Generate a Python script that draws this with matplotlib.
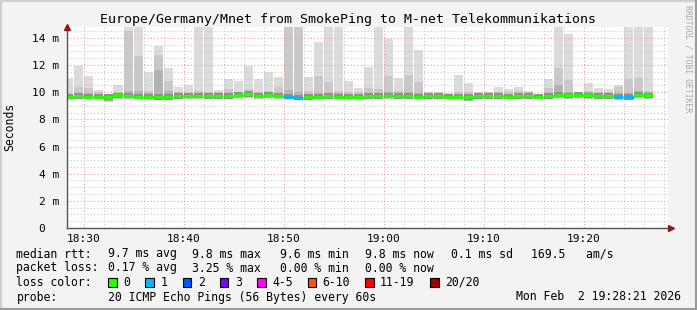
import matplotlib
matplotlib.use("Agg")
import matplotlib.pyplot as plt
import matplotlib.dates as mdates
from matplotlib.patches import Rectangle
from matplotlib.lines import Line2D
import numpy as np
import pandas as pd

# ---------------- data ----------------
start_minute = "2026-02-02 18:28"
top_rtt = [11.05, 11.9, 11.2, 10.15, 9.85, 10.55, 14.8, 14.8, 11.45, 13.4,
           11.8, 10.4, 10.5, 14.8, 14.8, 10.15, 11.0, 10.8, 11.95, 11.0,
           11.45, 11.1, 14.8, 14.8, 11.1, 13.7, 14.8, 14.8, 10.8, 10.3,
           11.85, 14.8, 13.95, 11.05, 14.8, 13.1, 10.05, 10.05, 9.95, 11.3,
           10.7, 10.05, 10.05, 10.4, 10.2, 10.4, 10.1, 9.9, 11.0, 14.8,
           14.3, 10.05, 10.7, 10.3, 10.2, 10.55, 14.8, 14.8, 14.8]
mid_rtt = [9.95, 10.35, 10.3, 10.0, 9.8, 10.0, 14.5, 12.65, 10.1, 12.75,
           10.85, 10.0, 9.95, 10.1, 10.05, 10.0, 10.2, 10.05, 10.25, 10.05,
           10.1, 10.35, 14.8, 14.8, 10.1, 11.2, 10.75, 10.1, 10.05, 10.0,
           10.3, 10.2, 11.2, 10.1, 11.3, 10.75, 9.95, 9.95, 9.9, 10.0,
           10.05, 9.95, 10.0, 10.05, 10.0, 10.1, 10.0, 9.85, 10.3, 11.8,
           10.9, 10.0, 10.1, 10.0, 10.0, 10.4, 10.95, 11.05, 10.1]
inner_rtt = [9.9, 9.95, 9.95, 9.9, 9.8, 9.95, 10.1, 10.1, 9.95, 11.6,
             10.1, 9.95, 9.95, 9.95, 9.95, 9.95, 9.95, 10.0, 10.05, 9.95,
             10.0, 9.95, 10.15, 10.05, 9.9, 9.95, 9.95, 9.95, 9.9, 9.9,
             9.95, 9.95, 10.0, 9.95, 10.0, 9.95, 9.9, 9.9, 9.85, 9.9,
             9.9, 9.9, 9.95, 9.95, 9.9, 9.95, 9.95, 9.85, 9.95, 10.5,
             10.05, 10.0, 10.0, 9.95, 9.95, 9.95, 9.95, 10.1, 10.0]
median_rtt = [9.68, 9.72, 9.68, 9.66, 9.62, 9.76, 9.74, 9.68, 9.66, 9.64,
              9.62, 9.72, 9.74, 9.73, 9.70, 9.72, 9.72, 9.80, 9.86, 9.74,
              9.82, 9.74, 9.68, 9.60, 9.64, 9.68, 9.70, 9.66, 9.66, 9.66,
              9.70, 9.72, 9.74, 9.70, 9.72, 9.66, 9.70, 9.70, 9.66, 9.66,
              9.64, 9.70, 9.70, 9.72, 9.68, 9.72, 9.72, 9.66, 9.72, 9.82,
              9.76, 9.80, 9.76, 9.70, 9.70, 9.66, 9.62, 9.82, 9.76]
bottom_rtt = [9.5, 9.5, 9.5, 9.48, 9.3, 9.5, 9.5, 9.5, 9.48, 9.45,
              9.42, 9.5, 9.52, 9.5, 9.5, 9.5, 9.5, 9.55, 9.6, 9.5,
              9.55, 9.5, 9.48, 9.45, 9.45, 9.5, 9.5, 9.48, 9.48, 9.48,
              9.5, 9.5, 9.5, 9.5, 9.5, 9.48, 9.5, 9.5, 9.48, 9.48,
              9.32, 9.5, 9.5, 9.5, 9.48, 9.5, 9.5, 9.48, 9.5, 9.55,
              9.52, 9.55, 9.5, 9.5, 9.5, 9.45, 9.45, 9.55, 9.5]
loss = [0] * 22 + [1, 1] + [0] * 31 + [1, 1] + [0, 0]

loss_labels = ["0", "1", "2", "3", "4-5", "6-10", "11-19", "20/20"]
loss_colors = ["#26ff00", "#00b8ff", "#0059ff", "#7e00ff", "#ff00ff",
               "#ff5500", "#ff0000", "#a10000"]
y_ticks = [0, 2, 4, 6, 8, 10, 12, 14]
y_tick_labels = ["0  ", "2 m", "4 m", "6 m", "8 m", "10 m", "12 m", "14 m"]

title = "Europe/Germany/Mnet from SmokePing to M-net Telekommunikations"
stats_rtt = ["9.7 ms avg", "9.8 ms max", "9.6 ms min", "9.8 ms now",
             "0.1 ms sd", "169.5   am/s"]
stats_loss = ["0.17 % avg", "3.25 % max", "0.00 % min", "0.00 % now"]
probe_text = "20 ICMP Echo Pings (56 Bytes) every 60s"
date_text = "Mon Feb  2 19:28:21 2026"

# ---------------- figure ----------------
W, H = 697, 310
MONO = "DejaVu Sans Mono"
plt.rcParams["font.family"] = [MONO]
fig = plt.figure(figsize=(W / 100, H / 100), dpi=100, facecolor="#f3f3f3")

def fx(x):
    return x / W

def fy(y):
    return 1 - y / H

ax_l, ax_r, ax_t, ax_b = 67, 668, 27, 228
ax = fig.add_axes([fx(ax_l), fy(ax_b), (ax_r - ax_l) / W, (ax_b - ax_t) / H])
ax.set_facecolor("white")

times = pd.date_range(start_minute, periods=len(top_rtt), freq="min")
x = mdates.date2num(times.to_pydatetime())
w = 1 / 1440.0

top = np.array(top_rtt)
mid = np.array(mid_rtt)
inner = np.array(inner_rtt)
med = np.array(median_rtt)
bot = np.array(bottom_rtt)

ax.bar(x, top - bot, bottom=bot, width=w, align="edge", color="#dcdcdc", lw=0, zorder=1)
ax.bar(x, mid - bot, bottom=bot, width=w, align="edge", color="#c9c9c9", lw=0, zorder=2)
ax.bar(x, inner - (bot + 0.05), bottom=bot + 0.05, width=w, align="edge", color="#b2b2b2", lw=0, zorder=3)
ax.bar(x, 0.40, bottom=med - 0.19, width=w, align="edge", color="#8e8e8e", lw=0, zorder=4)
med_cols = [loss_colors[min(l, 7)] for l in loss]
ax.hlines(med, x, x + w, colors=med_cols, lw=2.4, zorder=6, capstyle="butt")

x0 = mdates.date2num(pd.Timestamp("2026-02-02 18:28:21").to_pydatetime())
x1 = mdates.date2num(pd.Timestamp("2026-02-02 19:28:27").to_pydatetime())
ax.set_xlim(x0, x1)
ax.set_ylim(0, 14.8)

ax.xaxis.set_major_locator(mdates.MinuteLocator(byminute=range(0, 60, 10)))
ax.xaxis.set_minor_locator(mdates.MinuteLocator(byminute=range(0, 60, 2)))
ax.xaxis.set_major_formatter(mdates.DateFormatter("%H:%M"))
ax.set_yticks(y_ticks)
ax.set_yticklabels(y_tick_labels)
ax.set_yticks(np.arange(0, 14.81, 0.5), minor=True)

ax.grid(which="minor", color="#c8c8c8", linestyle=(0, (1, 2)), lw=0.8, zorder=7)
ax.grid(which="major", color="#f09a9a", linestyle=(0, (1, 2)), lw=0.8, zorder=8)
ax.set_axisbelow(False)

ax.tick_params(axis="both", which="both", length=0, labelsize=8, colors="#000000")
ax.tick_params(axis="y", pad=5.5)
ax.tick_params(axis="x", pad=4.5)
for lab in ax.get_xticklabels() + ax.get_yticklabels():
    lab.set_family(MONO)

for s in ["top", "right"]:
    ax.spines[s].set_visible(False)
for s in ["left", "bottom"]:
    ax.spines[s].set_color("#555555")
    ax.spines[s].set_linewidth(1.0)
    ax.spines[s].set_zorder(10)

# axis arrows
ax.plot([0], [1.0], marker="^", color="#8b1a1a", markersize=5, transform=ax.transAxes,
        clip_on=False, zorder=11)
ax.plot([1.005], [0], marker=">", color="#8b1a1a", markersize=5, transform=ax.transAxes,
        clip_on=False, zorder=11)

# title and labels
fig.text(fx(348), fy(19), title, ha="center", va="center", fontsize=9.5, family=MONO)
fig.text(fx(10), fy(127), "Seconds", rotation=90, ha="center", va="center",
         fontsize=8.3, family=MONO)
fig.text(fx(688), fy(59), "RRDTOOL / TOBI OETIKER", rotation=270, ha="center",
         va="center", fontsize=5.9, family=MONO, color="#a8a8a8")

# legend lines
fs = 8.3
fig.text(fx(16.4), fy(254), "median rtt:", va="center", fontsize=fs, family=MONO)
for s, xp in zip(stats_rtt, [108, 192.5, 279.5, 365, 451, 531]):
    fig.text(fx(xp), fy(254), s, va="center", fontsize=fs, family=MONO)
fig.text(fx(16.4), fy(268), "packet loss:", va="center", fontsize=fs, family=MONO)
for s, xp in zip(stats_loss, [108, 192.5, 279.5, 365]):
    fig.text(fx(xp), fy(268), s, va="center", fontsize=fs, family=MONO)
fig.text(fx(16.4), fy(282), "loss color:", va="center", fontsize=fs, family=MONO)
box_x = [108, 145.3, 182.7, 220, 257, 307.5, 365, 430]
for lab, col, bx in zip(loss_labels, loss_colors, box_x):
    fig.add_artist(Rectangle((fx(bx), fy(286.5)), 8.5 / W, 9 / H,
                             transform=fig.transFigure, facecolor=col,
                             edgecolor="black", lw=0.8))
    fig.text(fx(bx + 15), fy(282), lab, va="center", fontsize=fs, family=MONO)
fig.text(fx(16.4), fy(297), "probe:", va="center", fontsize=fs, family=MONO)
fig.text(fx(108), fy(297), probe_text, va="center", fontsize=fs, family=MONO)
fig.text(fx(680.5), fy(297), date_text, va="center", ha="right", fontsize=fs, family=MONO)

# 3D frame
fig.add_artist(Line2D([0, 1], [fy(0.5), fy(0.5)], transform=fig.transFigure, color="#cfcfcf", lw=1.5))
fig.add_artist(Line2D([fx(0.5), fx(0.5)], [0, 1], transform=fig.transFigure, color="#cfcfcf", lw=1.5))
fig.add_artist(Line2D([0, 1], [fy(309.3), fy(309.3)], transform=fig.transFigure, color="#9a9a9a", lw=1.5))
fig.add_artist(Line2D([fx(696.3), fx(696.3)], [0, 1], transform=fig.transFigure, color="#9a9a9a", lw=1.5))

fig.savefig("out.png", dpi=100, facecolor=fig.get_facecolor())
